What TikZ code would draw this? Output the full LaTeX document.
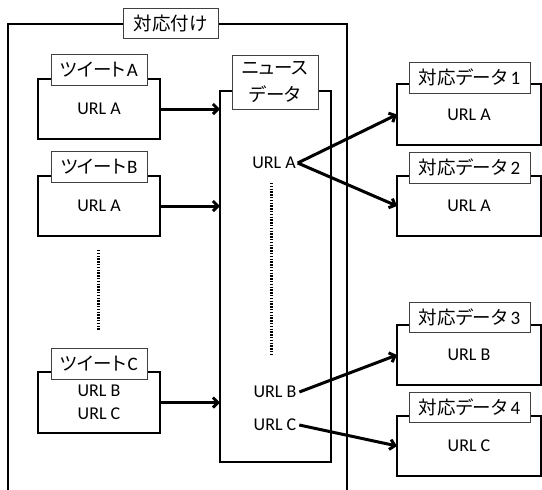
\documentclass[tikz,border=0pt]{standalone}
\usepackage{fontspec}
\setmainfont{Carlito}
\newfontfamily\cjk[RawFeature=+palt]{Noto Sans CJK JP}
\newcommand{\lat}[1]{{\fontspec{Carlito}\fontsize{19}{20}\selectfont #1}}
\usetikzlibrary{arrows.meta}
\begin{document}
\begin{tikzpicture}[x=1pt,y=-1pt,
  every node/.style={inner sep=0pt, outer sep=0pt},
  mainbox/.style={draw, line width=2pt, fill=white, font=\fontsize{18}{23}\selectfont, align=center},
  lbl/.style={draw=black!75, line width=1pt, fill=white, font=\cjk\fontsize{18.5}{27}\selectfont, align=center},
  txt/.style={font=\fontsize{18}{20}\selectfont},
  arr/.style={line width=3pt, -{Straight Barb[length=5pt,width=10pt]}},
  dots/.style={line width=3pt, dash pattern=on 1.4pt off 1.4pt}]
\useasboundingbox (0,0) rectangle (542,490);
% outer frame
\coordinate (fbl) at (8,492);
\coordinate (fbr) at (347,492);
\draw[line width=1.7pt] (fbl) -- (8,24) -- (347,24) -- (fbr);
\node[lbl, minimum width=95pt, minimum height=30pt] (title) at (170.5,23) {対応付け};
% tweets
\node[mainbox, minimum width=122pt, minimum height=60pt] (ta) at (99,109) {URL A};
\node[lbl, minimum width=96pt, minimum height=31pt] (tal) at (99,69.5) {ツイート\kern1pt\lat{A}};
\node[mainbox, minimum width=122pt, minimum height=60pt] (tb) at (99,206) {URL A};
\node[lbl, minimum width=96pt, minimum height=31pt] (tbl) at (99,167) {ツイート\kern1pt\lat{B}};
\node[mainbox, minimum width=122pt, minimum height=61pt] (tc) at (99,402.5) {URL B\\URL C};
\node[lbl, minimum width=96pt, minimum height=31pt] (tcl) at (99,363.5) {ツイート\kern1.5pt\lat{C}};
\coordinate (ld1) at (98,250);
\coordinate (ld2) at (98,330);
\draw[dots] (ld1) -- (ld2);
% news
\node[mainbox, minimum width=111pt, minimum height=371pt] (news) at (275.5,276.5) {};
\node[lbl, minimum width=86pt, minimum height=54pt] (newsl) at (275,82) {ニュース\\データ};
\node[txt] (ua) at (274,163) {URL A};
\node[txt] (ub) at (275,392) {URL B};
\node[txt] (uc) at (275,425) {URL C};
\coordinate (nd1) at (271,183);
\coordinate (nd2) at (271,356);
\draw[dots] (nd1) -- (nd2);
% results
\node[mainbox, minimum width=144pt, minimum height=61pt] (d1) at (469,114.5) {URL A};
\node[lbl, minimum width=121pt, minimum height=31pt] (d1l) at (469.5,77.5) {対応データ\lat{\,1}};
\node[mainbox, minimum width=144pt, minimum height=60pt] (d2) at (469,206) {URL A};
\node[lbl, minimum width=121pt, minimum height=31pt] (d2l) at (469.5,167.5) {対応データ\lat{\,2}};
\node[mainbox, minimum width=144pt, minimum height=60pt] (d3) at (469,355) {URL B};
\node[lbl, minimum width=121pt, minimum height=30pt] (d3l) at (469.5,317) {対応データ\lat{\,3}};
\node[mainbox, minimum width=144pt, minimum height=60pt] (d4) at (469,446) {URL C};
\node[lbl, minimum width=121pt, minimum height=30pt] (d4l) at (469.5,407) {対応データ\lat{\,4}};
% arrows
\draw[arr] (ta.east) -- (ta.east -| news.west);
\draw[arr] (tb.east) -- (tb.east -| news.west);
\draw[arr] (tc.east) -- (tc.east -| news.west);
\draw[arr] ([xshift=2pt]ua.east) -- (d1.west);
\draw[arr] ([xshift=2pt]ua.east) -- (d2.west);
\draw[arr] ([xshift=3pt]ub.east) -- (d3.west);
\draw[arr] ([xshift=3pt]uc.east) -- (d4.west);
\end{tikzpicture}
\end{document}
